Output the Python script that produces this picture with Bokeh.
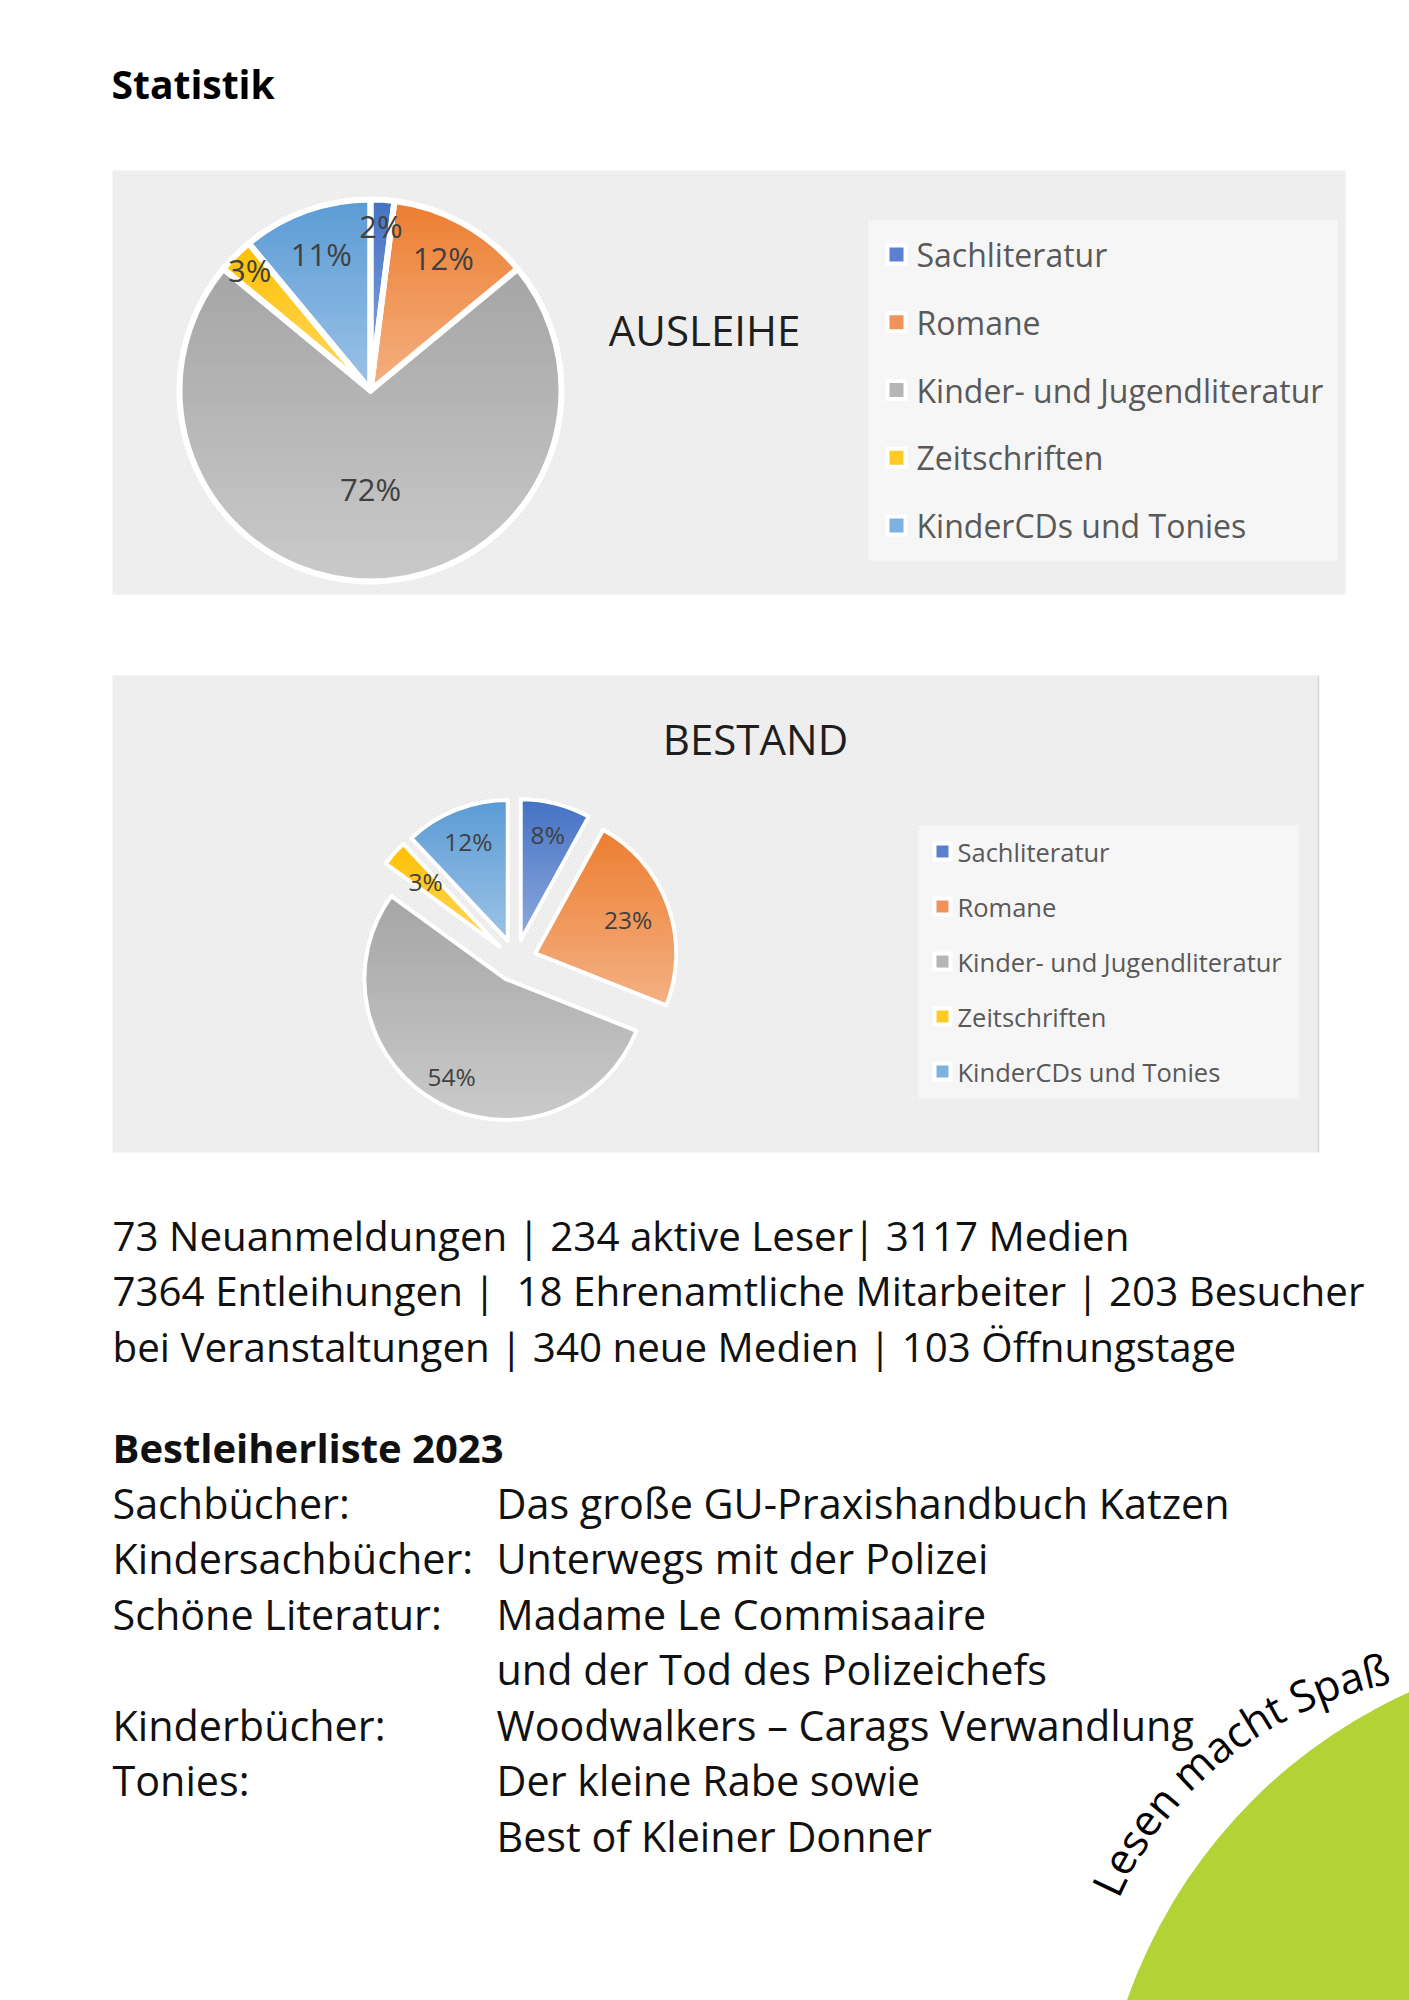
import numpy as np
from bokeh.plotting import figure
from bokeh.models import Range1d, ColumnDataSource
from bokeh.core.properties import value
from bokeh.embed import file_html
from bokeh.resources import INLINE

# ---------------- data ----------------
categories = ["Sachliteratur", "Romane", "Kinder- und Jugendliteratur",
              "Zeitschriften", "KinderCDs und Tonies"]
ausleihe_pct = [2, 12, 72, 3, 11]
bestand_pct = [8, 23, 54, 3, 12]

page_title = "Statistik"
chart1_title = "AUSLEIHE"
chart2_title = "BESTAND"

stats_lines = [
    "73 Neuanmeldungen | 234 aktive Leser| 3117 Medien",
    "7364 Entleihungen |\u00a0 18 Ehrenamtliche Mitarbeiter | 203 Besucher",
    "bei Veranstaltungen | 340 neue Medien | 103 Öffnungstage",
]
list_title = "Bestleiherliste 2023"
list_labels = ["Sachbücher:", "Kindersachbücher:", "Schöne Literatur:", "",
               "Kinderbücher:", "Tonies:", ""]
list_books = ["Das große GU-Praxishandbuch Katzen", "Unterwegs mit der Polizei",
              "Madame Le Commisaaire", "und der Tod des Polizeichefs",
              "Woodwalkers – Carags Verwandlung", "Der kleine Rabe sowie",
              "Best of Kleiner Donner"]
slogan = "Lesen macht Spaß"

# ---------------- style ----------------
top_colors = ["#4472c4", "#ed7d31", "#a5a5a5", "#ffc000", "#5b9bd5"]
bottom_colors = ["#8faadc", "#f4b183", "#cacaca", "#ffd966", "#9dc3e6"]
legend_colors = ["#5b80cf", "#f0935a", "#b5b5b5", "#ffc926", "#7db1e0"]
FONT = "Open Sans"
W, H = 1409, 2000


def Y(v):
    return H - v


def hex2rgb(h):
    h = h.lstrip("#")
    return np.array([int(h[i:i + 2], 16) for i in (0, 2, 4)], dtype=float)


def lerp_col(c0, c1, t):
    a, b = hex2rgb(c0), hex2rgb(c1)
    c = a + (b - a) * t
    return "#%02x%02x%02x" % tuple(int(round(v)) for v in c)


def clip_half(pts, keep, inter):
    out = []
    n = len(pts)
    for i in range(n):
        cur, prev = pts[i], pts[i - 1]
        if keep(cur):
            if not keep(prev):
                out.append(inter(prev, cur))
            out.append(cur)
        elif keep(prev):
            out.append(inter(prev, cur))
    return out


def yinter(c):
    def f(p, q):
        t = (c - p[1]) / (q[1] - p[1])
        return (p[0] + t * (q[0] - p[0]), c)
    return f


p = figure(width=W, height=H, x_range=Range1d(0, W), y_range=Range1d(0, H),
           output_backend="svg", toolbar_location=None,
           x_axis_location=None, y_axis_location=None, min_border=0,
           outline_line_color=None, background_fill_color="white",
           border_fill_color="white")
p.grid.visible = False


def label(x, y, txt, size, bold=False, color="#111111", align="left"):
    p.text(x=x, y=[Y(v) for v in y], text=txt, text_font=value(FONT),
           text_font_style="bold" if bold else "normal", text_font_size=size,
           text_color=color, text_align=align, text_baseline="middle")


# ---------------- page title ----------------
label([111], [83], [page_title], "39px", bold=True, color="#000000")

# ---------------- panels ----------------
hatch = dict(hatch_pattern="/", hatch_color="#e1e1e1", hatch_scale=4, hatch_weight=0.6)
p.quad(left=[112], right=[1345], top=[Y(170)], bottom=[Y(594)], fill_color="#f3f3f3",
       line_color=None, **hatch)
p.quad(left=[112], right=[1318], top=[Y(675)], bottom=[Y(1152)], fill_color="#f3f3f3",
       line_color=None, **hatch)
p.segment(x0=[1318], y0=[Y(675)], x1=[1318], y1=[Y(1152)], line_color="#d6d6d6", line_width=1.5)


def draw_pie(cx, cy, R, vals, explode, lab_r, lab_font, border):
    v = np.array(vals, dtype=float)
    frac = v / v.sum()
    cum1 = np.cumsum(frac)
    cum0 = cum1 - frac
    a_start = np.pi / 2 - 2 * np.pi * cum1
    a_end = np.pi / 2 - 2 * np.pi * cum0
    mid = (a_start + a_end) / 2
    ox = cx + explode * np.cos(mid)
    oy = Y(cy) + explode * np.sin(mid)
    r = R - border / 2
    pxs, pys, pcs = [], [], []
    for i in range(len(v)):
        n = max(12, int(np.degrees(a_end[i] - a_start[i]) / 1.5))
        th = np.linspace(a_start[i], a_end[i], n)
        pts = [(ox[i], oy[i])] + [(ox[i] + r * np.cos(t), oy[i] + r * np.sin(t)) for t in th]
        ys_all = [q[1] for q in pts]
        y0, y1 = min(ys_all), max(ys_all)
        N = 30
        edges = np.linspace(y0, y1, N + 1)
        for k in range(N):
            lo, hi = edges[k], edges[k + 1]
            c = clip_half(pts, lambda q, lo=lo: q[1] >= lo - 0.6, yinter(lo - 0.6))
            if len(c) < 3:
                continue
            c = clip_half(c, lambda q, hi=hi: q[1] <= hi + 0.6, yinter(hi + 0.6))
            if len(c) < 3:
                continue
            t = ((lo + hi) / 2 - y0) / (y1 - y0)
            pxs.append([q[0] for q in c])
            pys.append([q[1] for q in c])
            pcs.append(lerp_col(bottom_colors[i], top_colors[i], t))
    p.patches(xs=pxs, ys=pys, fill_color=pcs, line_color=None)
    src = ColumnDataSource(dict(x=ox, y=oy, s=a_start, e=a_end, cat=categories))
    p.wedge(x="x", y="y", radius=r, start_angle="s", end_angle="e", source=src,
            fill_color=None, line_color="white", line_width=border, line_join="round")
    lr = explode + np.array(lab_r) * R
    lab = ColumnDataSource(dict(x=cx + lr * np.cos(mid), y=Y(cy) + lr * np.sin(mid),
                                t=["%d%%" % round(x) for x in v]))
    p.text(x="x", y="y", text="t", source=lab, text_font=value(FONT),
           text_font_size=lab_font, text_color="#404040",
           text_align="center", text_baseline="middle")


def draw_legend(box, mx, y0, dy, msize, tx, font):
    l, t, rr, b = box
    p.quad(left=[l], right=[rr], top=[Y(t)], bottom=[Y(b)], fill_color="#f8f8f8",
           line_color=None, hatch_pattern="/", hatch_color="#efefef", hatch_scale=4,
           hatch_weight=0.5)
    ys = [Y(y0 + i * dy) for i in range(len(categories))]
    p.rect(x=[mx] * len(ys), y=ys, width=msize + 8, height=msize + 8,
           fill_color="white", line_color=None)
    p.rect(x=[mx] * len(ys), y=ys, width=msize, height=msize,
           fill_color=legend_colors, line_color=None)
    p.text(x=[tx] * len(ys), y=ys, text=categories, text_font=value(FONT),
           text_font_size=font, text_color="#595959", text_align="left",
           text_baseline="middle")


# chart 1
draw_pie(370, 390, 194, ausleihe_pct, 0, [0.85, 0.78, 0.51, 0.88, 0.75], "31px", 6)
label([704], [329], [chart1_title], "42px", color="#1e1e1e", align="center")
draw_legend((868, 220, 1337, 560), 896, 254, 67.75, 14, 916, "32px")

# chart 2
draw_pie(515, 960, 143, bestand_pct, 21, [0.76, 0.69, 0.78, 0.69, 0.75], "24.5px", 4)
label([755], [738], [chart2_title], "42px", color="#1e1e1e", align="center")
draw_legend((918, 825, 1298, 1098), 942, 851, 55, 12, 957, "25.5px")

# ---------------- text blocks ----------------
label([112] * 3, [1235 + i * 55.3 for i in range(3)], stats_lines, "40.3px")
label([112], [1447], [list_title], "40px", bold=True)
rows = [1502 + i * 55.5 for i in range(len(list_books))]
label([112] * len(rows), rows, list_labels, "41.3px")
label([496] * len(rows), rows, list_books, "41.3px")

# ---------------- green circle + curved slogan ----------------
p.circle(x=[1626], y=[Y(2174)], radius=529, fill_color="#b2d235", line_color=None)

char_w = {"L": 0.535, "e": 0.56, "s": 0.478, "n": 0.614, " ": 0.26, "m": 0.93,
          "a": 0.556, "c": 0.476, "h": 0.614, "t": 0.349, "S": 0.531, "p": 0.613,
          "ß": 0.617}
fs = 43.0
base_r = 379.0
arc_cx, arc_cy, arc_r = 1461, Y(2052), base_r + 0.3 * fs
theta0 = np.radians(156.0)
cx_l, cy_l, ang_l, ch_l = [], [], [], []
acc = 0.0
for ch in slogan:
    w = char_w.get(ch, 0.55) * fs
    th = theta0 - (acc + w / 2) / base_r
    acc += w
    if ch == " ":
        continue
    cx_l.append(arc_cx + arc_r * np.cos(th))
    cy_l.append(arc_cy + arc_r * np.sin(th))
    ang_l.append(th - np.pi / 2)
    ch_l.append(ch)
p.text(x=cx_l, y=cy_l, text=ch_l, angle=ang_l, text_font=value(FONT),
       text_font_size="43px", text_color="#000000", text_align="center",
       text_baseline="middle")

open("out.html", "w").write(file_html(p, INLINE))
